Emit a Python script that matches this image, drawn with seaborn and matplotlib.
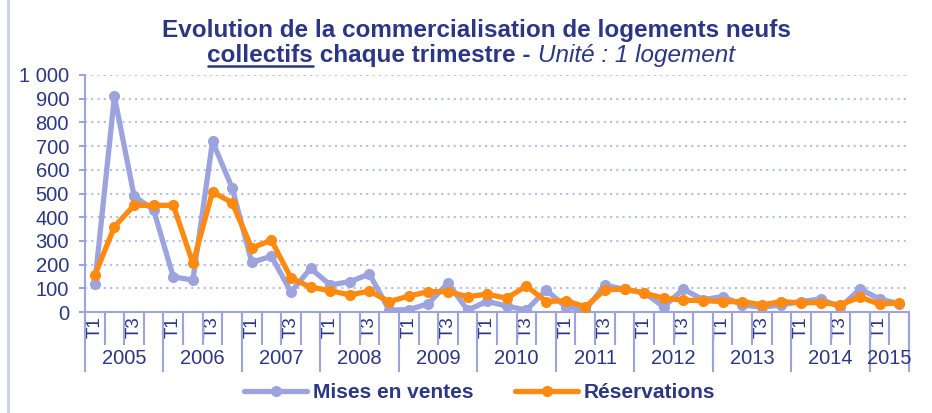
import numpy as np
import pandas as pd
import matplotlib.pyplot as plt
from matplotlib.lines import Line2D
import seaborn as sns

# Données (2005 T1 -> 2015 T2)
annees = ["2005", "2006", "2007", "2008", "2009", "2010", "2011", "2012", "2013", "2014", "2015"]
trimestres_par_annee = [4, 4, 4, 4, 4, 4, 4, 4, 4, 4, 2]

mises_en_ventes = [120, 910, 490, 430,
                   148, 135, 720, 523,
                   210, 235, 85, 184,
                   114, 128, 160, 8,
                   10, 35, 122, 8,
                   45, 25, 8, 93,
                   22, 8, 114, 95,
                   82, 22, 97, 52,
                   65, 30, 20, 30,
                   44, 55, 20, 97,
                   55, 35]
reservations = [155, 360, 450, 450,
                450, 205, 507, 461,
                270, 303, 143, 105,
                90, 72, 88, 44,
                67, 86, 86, 65,
                75, 58, 110, 44,
                48, 22, 93, 97,
                80, 58, 50, 48,
                44, 44, 30, 44,
                38, 40, 30, 63,
                33, 39]

sns.set_style("white")
plt.rcParams['font.family'] = ['Liberation Sans', 'DejaVu Sans']

navy = "#2B3784"
lav = "#9CA3DD"
grid_col = "#B7BDE8"
orange = "#FF8A0F"

trim = []
for a, n in zip(annees, trimestres_par_annee):
    for q in range(n):
        trim.append("T%d" % (q + 1))
df = pd.DataFrame({"idx": np.arange(len(trim)), "trimestre": trim,
                   "Mises en ventes": mises_en_ventes, "Réservations": reservations})

fig = plt.figure(figsize=(9.32, 4.13), dpi=100)
ax = fig.add_axes([85 / 932, 101 / 413, 824 / 932, 237 / 413])

sns.lineplot(data=df, x="idx", y="Mises en ventes", ax=ax, color=lav, linewidth=3.8,
             marker="o", markersize=8, markeredgewidth=0, zorder=3)
sns.lineplot(data=df, x="idx", y="Réservations", ax=ax, color=orange, linewidth=3.8,
             marker="o", markersize=8, markeredgewidth=0, zorder=4)

ax.set_xlim(-0.5, len(trim) - 0.5)
ax.set_ylim(0, 1000)
ax.set_xlabel("")
ax.set_ylabel("")

# axe Y
yt = np.arange(0, 1001, 100)
ax.set_yticks(yt)
ax.set_yticklabels([("%d" % v) if v < 1000 else "1 000" for v in yt], fontsize=14.5, color=navy)
ax.tick_params(axis="y", left=True, length=4.5, width=1.5, color=lav, pad=7)
ax.yaxis.grid(True, linestyle=(0, (1, 2)), color=grid_col, linewidth=1.5)
ax.xaxis.grid(False)
for s in ["top", "right"]:
    ax.spines[s].set_visible(False)
for s in ["left", "bottom"]:
    ax.spines[s].set_color(lav)
    ax.spines[s].set_linewidth(1.5)

# axe X : trimestres (T1 et T3 seulement)
ax.set_xticks(df["idx"])
ax.set_xticklabels([t if t in ("T1", "T3") else "" for t in trim], rotation=90,
                   fontsize=13.5, color=navy)
ax.tick_params(axis="x", which="major", length=0, pad=3)
ax.set_xticks(np.arange(-0.5, len(trim), 1.0), minor=True)
ax.tick_params(axis="x", which="minor", bottom=True, length=24, width=1.5, color=lav)

# séparateurs et libellés des années
bornes = np.concatenate([[0], np.cumsum(trimestres_par_annee)]) - 0.5
ax.vlines(bornes, -0.255, 0, transform=ax.get_xaxis_transform(), colors=lav,
          linewidth=1.5, clip_on=False)
for a, g, d in zip(annees, bornes[:-1], bornes[1:]):
    ax.text((g + d) / 2, -0.195, a, transform=ax.get_xaxis_transform(), ha="center",
            va="center", fontsize=14.5, color=navy)

# légende
handles = [Line2D([], [], color=lav, linewidth=3.8, marker="o", markersize=8, markeredgewidth=0),
           Line2D([], [], color=orange, linewidth=3.8, marker="o", markersize=8, markeredgewidth=0)]
leg = fig.legend(handles, ["Mises en ventes", "Réservations"], loc="center",
                 bbox_to_anchor=(480 / 932, 20 / 413), ncol=2, frameon=False,
                 prop={"weight": "bold", "size": 15}, handlelength=3.0,
                 handletextpad=0.3, columnspacing=2.0, numpoints=1)
for t in leg.get_texts():
    t.set_color(navy)

# titre
fig.text(476 / 932, 1 - 37 / 413, "Evolution de la commercialisation de logements neufs",
         ha="center", va="baseline", fontsize=17.5, fontweight="bold", color=navy)

r = fig.canvas.get_renderer()
morceaux = [("collectifs", {"fontweight": "bold"}),
            (" chaque trimestre - ", {"fontweight": "bold"}),
            ("Unité : 1 logement", {"fontstyle": "italic"})]
textes = []
for s, kw in morceaux:
    textes.append(fig.text(0, 1 - 62 / 413, s, ha="left", va="baseline", fontsize=17.5,
                           color=navy, **kw))
largeurs = [t.get_window_extent(r).width for t in textes]
x0 = 471 - sum(largeurs) / 2
for t, w in zip(textes, largeurs):
    t.set_x(x0 / 932)
    x0 += w
x_deb = (471 - sum(largeurs) / 2) / 932
fig.add_artist(Line2D([x_deb, x_deb + largeurs[0] / 932], [1 - 65.5 / 413] * 2,
                      transform=fig.transFigure, color=navy, linewidth=1.8))

# bord gauche
fig.add_artist(Line2D([8 / 932] * 2, [0, 1], transform=fig.transFigure, color="#C9CDEF",
                      linewidth=2))

fig.savefig("out.png", dpi=100)
